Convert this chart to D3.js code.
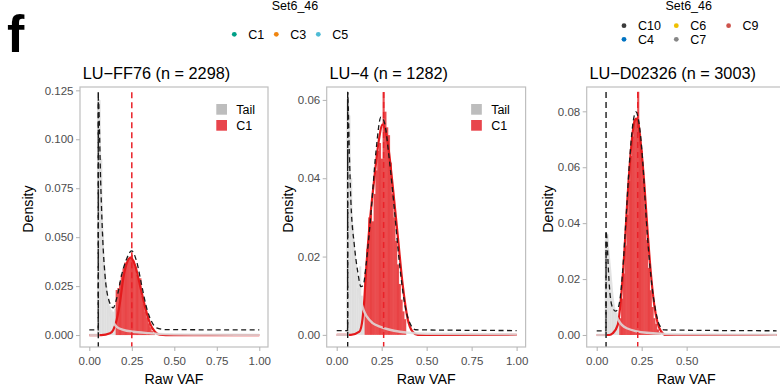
<!DOCTYPE html>
<html>
<head>
<meta charset="utf-8">
<script src="https://cdn.jsdelivr.net/npm/d3@7"></script>
<style>
  body { margin: 0; background: #fff; }
  svg { font-family: "Liberation Sans", Arial, Helvetica, sans-serif; }
</style>
</head>
<body>
<div id="chart"></div>
<script>
// ---- data ----
const panelTitles = ["LU\u2212FF76 (n = 2298)", "LU\u22124 (n = 1282)", "LU\u2212D02326 (n = 3003)"];
const cutoffs = [0.053, 0.061, 0.052];
const c1Means = [0.25, 0.261, 0.228];
const binWidth = 0.01;

const xTicksFull = [0, 0.25, 0.5, 0.75, 1];
const xTicksShort = [0, 0.25, 0.5];
const ff76YTicks = [0, 0.025, 0.05, 0.075, 0.1, 0.125];
const lu4YTicks = [0, 0.02, 0.04, 0.06];
const d02326YTicks = [0, 0.02, 0.04, 0.06, 0.08];

// histogram bins: [bin start, density]
const ff76TailBins = [[0.045,0.124],[0.055,0.12],[0.065,0.09],[0.075,0.052],[0.085,0.033],[0.095,0.025],
  [0.105,0.019],[0.115,0.015],[0.125,0.013],[0.135,0.012],[0.145,0.0135]];
const ff76C1Bins = [[0.155,0.023],[0.165,0.024],[0.175,0.027],[0.185,0.031],[0.195,0.034],[0.205,0.037],
  [0.215,0.037],[0.225,0.039],[0.235,0.04],[0.245,0.041],[0.255,0.038],[0.265,0.035],[0.275,0.031],
  [0.285,0.029],[0.295,0.029],[0.305,0.02],[0.315,0.016],[0.325,0.012],[0.335,0.009],[0.345,0.006],
  [0.355,0.004],[0.365,0.002],[0.375,0.001]];
const lu4TailBins = [[0.055,0.06],[0.065,0.056],[0.075,0.04],[0.085,0.028],[0.095,0.021],[0.105,0.016],
  [0.115,0.012],[0.125,0.0175],[0.135,0.01],[0.145,0.007]];
const lu4C1Bins = [[0.155,0.016],[0.165,0.022],[0.175,0.03],[0.185,0.031],[0.195,0.029],[0.205,0.036],
  [0.215,0.042],[0.225,0.047],[0.235,0.049],[0.245,0.045],[0.255,0.062],[0.265,0.057],[0.275,0.053],
  [0.285,0.051],[0.295,0.044],[0.305,0.036],[0.315,0.03],[0.325,0.024],[0.335,0.018],[0.345,0.013],
  [0.355,0.009],[0.365,0.006],[0.375,0.004]];
const d02326TailBins = [[0.045,0.034],[0.055,0.036],[0.065,0.022],[0.075,0.014],[0.085,0.011],
  [0.095,0.009],[0.105,0.008],[0.115,0.006]];
const d02326C1Bins = [[0.125,0.006],[0.135,0.013],[0.145,0.022],[0.155,0.032],[0.165,0.043],[0.175,0.055],
  [0.185,0.064],[0.195,0.071],[0.205,0.077],[0.215,0.077],[0.225,0.087],[0.235,0.072],[0.245,0.066],
  [0.255,0.055],[0.265,0.045],[0.275,0.034],[0.285,0.024],[0.295,0.016],[0.305,0.01],[0.315,0.006],
  [0.325,0.004],[0.335,0.002],[0.345,0.001]];

// fitted curves: [VAF, density]
const ff76TailCurve = [[0,0],[0.053,0],[0.0535,0.119],[0.067,0.076],[0.079,0.046],[0.092,0.029],[0.102,0.0195],
  [0.117,0.013],[0.132,0.0085],[0.161,0.0042],[0.2,0.0027],[0.259,0.0017],[0.35,0.001],[0.455,0.0005],[0.7,0.0002],[1,0.0001]];
const ff76C1Curve = [[0,0],[0.07,0],[0.122,0.0009],[0.141,0.0026],[0.161,0.0077],[0.181,0.017],[0.2,0.029],
  [0.22,0.0366],[0.243,0.0395],[0.269,0.0357],[0.298,0.0255],[0.328,0.0144],[0.357,0.006],[0.386,0.0017],
  [0.416,0.0002],[0.45,0],[1,0]];
const ff76MixCurve = [[0,0.0026],[0.0525,0.0026],[0.053,0.121],[0.067,0.078],[0.079,0.049],[0.092,0.031],
  [0.112,0.0187],[0.141,0.0139],[0.161,0.0187],[0.19,0.0306],[0.22,0.039],[0.249,0.043],[0.279,0.0374],
  [0.308,0.0255],[0.338,0.0136],[0.367,0.0068],[0.396,0.0037],[0.45,0.0028],[1,0.0026]];

const lu4TailCurve = [[0,0],[0.061,0],[0.0615,0.06],[0.07,0.045],[0.079,0.033],[0.098,0.021],[0.117,0.014],
  [0.129,0.0098],[0.148,0.0065],[0.167,0.0047],[0.2,0.003],[0.24,0.0021],[0.352,0.0008],[0.5,0.0003],[1,0.0001]];
const lu4C1Curve = [[0,0],[0.079,0],[0.126,0.0008],[0.144,0.0042],[0.154,0.0093],[0.163,0.0161],[0.181,0.0272],
  [0.209,0.0399],[0.233,0.0493],[0.255,0.0537],[0.283,0.0493],[0.311,0.0382],[0.339,0.0255],[0.367,0.0127],
  [0.394,0.0042],[0.422,0.0008],[0.45,0],[1,0]];
const lu4MixCurve = [[0,0.0011],[0.0605,0.0011],[0.061,0.062],[0.07,0.0467],[0.079,0.034],[0.098,0.0229],
  [0.117,0.0161],[0.135,0.0123],[0.148,0.0127],[0.163,0.0178],[0.191,0.0314],[0.218,0.0467],[0.246,0.0556],
  [0.265,0.0543],[0.292,0.045],[0.32,0.0323],[0.348,0.0187],[0.376,0.0085],[0.403,0.0034],[0.44,0.0013],[1,0.0011]];

const d02326TailCurve = [[0,0],[0.052,0],[0.0525,0.036],[0.059,0.033],[0.074,0.0232],[0.092,0.0113],
  [0.12,0.0054],[0.167,0.0024],[0.278,0.0008],[0.5,0.0002],[1,0.0001]];
const d02326C1Curve = [[0,0],[0.07,0],[0.089,0.0006],[0.117,0.0036],[0.135,0.0131],[0.154,0.0298],[0.172,0.05],
  [0.191,0.0667],[0.209,0.0762],[0.22,0.0774],[0.228,0.0768],[0.246,0.0679],[0.265,0.0536],[0.283,0.0369],
  [0.302,0.0214],[0.32,0.0107],[0.339,0.0042],[0.357,0.0014],[0.385,0],[1,0]];
const d02326MixCurve = [[0,0.0015],[0.0515,0.0015],[0.052,0.037],[0.058,0.033],[0.066,0.022],[0.076,0.0135],
  [0.09,0.0095],[0.105,0.0085],[0.118,0.0095],[0.13,0.013],[0.144,0.0226],[0.163,0.0417],[0.181,0.0607],
  [0.2,0.075],[0.218,0.0798],[0.237,0.075],[0.256,0.0619],[0.274,0.0429],[0.292,0.0274],[0.311,0.0155],
  [0.329,0.0083],[0.348,0.0036],[0.376,0.0018],[1,0.0015]];

const legendA = ["C1", "C3", "C5"];
const legendAColors = ["#00A087", "#F0850F", "#4DBBD5"];
const legendB = ["C10", "C6", "C9", "C4", "C7"];
const legendBColors = ["#3B3B3B", "#EFC000", "#CD534C", "#0073C2", "#868686"];
const panelLegend = ["Tail", "C1"];

// ---- layout ----
const W = 780, H = 385;
const TOP = 87, BOTTOM = 347;
const RED = "#e41a1c";

const svg = d3.select("#chart").append("svg").attr("width", W).attr("height", H);

const panels = [
  { left: 80, right: 268, xDomain: [-0.0547, 1.0512], yDomain: [-0.0061, 0.1267], yTicks: ff76YTicks, yFmt: ".3f",
    xTicks: xTicksFull, tail: ff76TailBins, c1: ff76C1Bins, tailCurve: ff76TailCurve, c1Curve: ff76C1Curve,
    mixCurve: ff76MixCurve, vTop: 0.124, legend: true, ylabGap: 47 },
  { left: 326.7, right: 525.6, xDomain: [-0.0556, 1.05], yDomain: [-0.0031, 0.0633], yTicks: lu4YTicks, yFmt: ".2f",
    xTicks: xTicksFull, tail: lu4TailBins, c1: lu4C1Bins, tailCurve: lu4TailCurve, c1Curve: lu4C1Curve,
    mixCurve: lu4MixCurve, vTop: 0.062, legend: true, ylabGap: 34 },
  { left: 586.7, right: 785.6, xDomain: [-0.0556, 1.05], yDomain: [-0.0043, 0.0887], yTicks: d02326YTicks, yFmt: ".2f",
    xTicks: xTicksShort, tail: d02326TailBins, c1: d02326C1Bins, tailCurve: d02326TailCurve, c1Curve: d02326C1Curve,
    mixCurve: d02326MixCurve, vTop: 0.0869, legend: false, ylabGap: 34 },
];

// panel tag
svg.append("text").attr("x", 7).attr("y", 51.5)
  .attr("font-size", 52).attr("font-weight", "bold").attr("fill", "#000").text("f");

function drawPanel(p, i) {
  const x = d3.scaleLinear().domain(p.xDomain).range([p.left, p.right]);
  const y = d3.scaleLinear().domain(p.yDomain).range([BOTTOM, TOP]);
  const g = svg.append("g");

  g.append("clipPath").attr("id", "clip" + i)
    .append("rect").attr("x", p.left).attr("y", TOP).attr("width", p.right - p.left).attr("height", BOTTOM - TOP);
  const plot = g.append("g").attr("clip-path", `url(#clip${i})`);

  // bars overlap a hair so the seams show as faint darker lines, not white gaps
  const bars = (data, fill, opacity) => plot.append("g").selectAll("rect").data(data).join("rect")
    .attr("x", d => x(d[0]))
    .attr("width", d => x(d[0] + binWidth) - x(d[0]) + 0.3)
    .attr("y", d => y(d[1]))
    .attr("height", d => y(0) - y(d[1]))
    .attr("fill", fill).attr("fill-opacity", opacity);

  bars(p.tail, "#bdbdbd", 0.42);
  bars(p.c1, RED, 0.78);

  const line = d3.line().x(d => x(d[0])).y(d => y(d[1])).curve(d3.curveMonotoneX);

  plot.append("path").attr("d", line(p.c1Curve))
    .attr("fill", "none").attr("stroke", RED).attr("stroke-width", 2.2);
  plot.append("path").attr("d", line(p.tailCurve))
    .attr("fill", "none").attr("stroke", "#dedede").attr("stroke-width", 2.4).attr("stroke-opacity", 0.85);

  // cluster mean and tail cutoff
  plot.append("line").attr("x1", x(c1Means[i])).attr("x2", x(c1Means[i]))
    .attr("y1", y(p.vTop)).attr("y2", BOTTOM)
    .attr("stroke", "#ea2229").attr("stroke-width", 1.5).attr("stroke-dasharray", "6,4");
  plot.append("line").attr("x1", x(cutoffs[i])).attr("x2", x(cutoffs[i]))
    .attr("y1", y(p.vTop)).attr("y2", BOTTOM)
    .attr("stroke", "#1a1a1a").attr("stroke-width", 1.4).attr("stroke-dasharray", "6,4");

  plot.append("path").attr("d", line(p.mixCurve))
    .attr("fill", "none").attr("stroke", "#1a1a1a").attr("stroke-width", 1.3).attr("stroke-dasharray", "5,3.5");

  // frame
  g.append("rect").attr("x", p.left).attr("y", TOP).attr("width", p.right - p.left).attr("height", BOTTOM - TOP)
    .attr("fill", "none").attr("stroke", "#bfbfbf").attr("stroke-width", 1.2);

  // axes
  const ya = g.append("g").attr("transform", `translate(${p.left},0)`)
    .call(d3.axisLeft(y).tickValues(p.yTicks).tickFormat(d3.format(p.yFmt)).tickSize(4).tickPadding(2.5));
  const xa = g.append("g").attr("transform", `translate(0,${BOTTOM})`)
    .call(d3.axisBottom(x).tickValues(p.xTicks).tickFormat(d3.format(".2f")).tickSize(4).tickPadding(5.5));
  [ya, xa].forEach(a => {
    a.select(".domain").remove();
    a.selectAll(".tick line").attr("stroke", "#b3b3b3").attr("stroke-width", 1);
    a.selectAll(".tick text").attr("fill", "#4d4d4d").attr("font-size", 11.5).attr("font-family", null);
  });

  // titles
  g.append("text").attr("x", p.left + 2.7).attr("y", 78.5).attr("font-size", 16.3).attr("fill", "#000")
    .text(panelTitles[i]);
  g.append("text").attr("x", (p.left + p.right) / 2).attr("y", 383.5).attr("text-anchor", "middle")
    .attr("font-size", 14.2).attr("fill", "#000").text("Raw VAF");
  g.append("text").attr("transform", `translate(${p.left - p.ylabGap},${(TOP + BOTTOM) / 2 - 8}) rotate(-90)`)
    .attr("text-anchor", "middle").attr("font-size", 14.2).attr("fill", "#000").text("Density");

  if (p.legend) {
    const lx = x(0.75) - 0.5, ly = [104, 120];
    const keyCols = ["#bdbdbd", "#e8454c"];
    panelLegend.forEach((lab, k) => {
      g.append("rect").attr("x", lx).attr("y", ly[k]).attr("width", 10.7).attr("height", 10.7).attr("fill", keyCols[k]);
      g.append("text").attr("x", lx + 20).attr("y", ly[k] + 9.5).attr("font-size", 12.5).attr("fill", "#000").text(lab);
    });
  }
}

panels.forEach(drawPanel);

// top legends
function topLegend(cx, title, labels, colors, cols, x0, colStep, rowY) {
  svg.append("text").attr("x", cx).attr("y", 9.5).attr("text-anchor", "middle")
    .attr("font-size", 12.5).attr("fill", "#000").text(title);
  labels.forEach((lab, k) => {
    const c = k % cols, r = Math.floor(k / cols);
    const px = x0 + c * colStep, py = rowY[r];
    svg.append("circle").attr("cx", px).attr("cy", py).attr("r", 2.4).attr("fill", colors[k]);
    svg.append("text").attr("x", px + 14).attr("y", py + 4.5).attr("font-size", 12.5).attr("fill", "#000").text(lab);
  });
}
topLegend(295, "Set6_46", legendA, legendAColors, 3, 234.3, 42, [34.3]);
topLegend(688.7, "Set6_46", legendB, legendBColors, 3, 624, 52.3, [25.7, 39.3]);
</script>
</body>
</html>
